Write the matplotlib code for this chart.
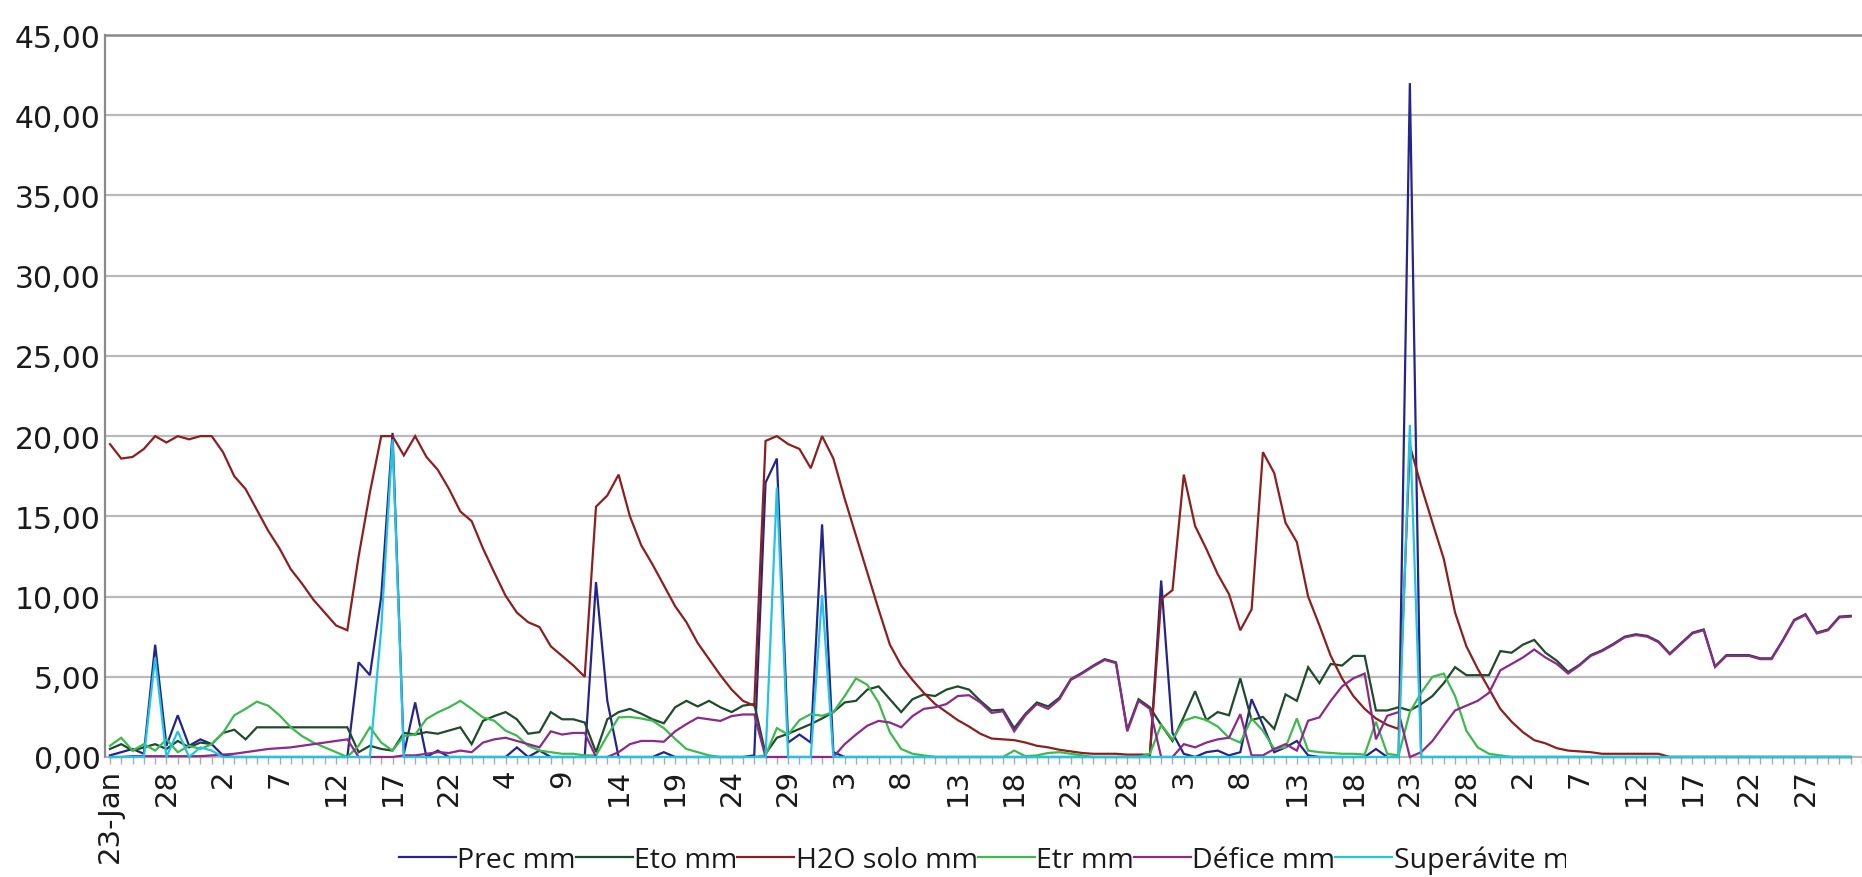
import matplotlib
matplotlib.use("Agg")
import matplotlib.pyplot as plt
from matplotlib import font_manager as fm
from matplotlib.lines import Line2D
from matplotlib.transforms import Bbox, TransformedBbox

# ---------------- data ----------------
tick_labels = ["23-Jan", "28", "2", "7", "12", "17", "22", "4", "9", "14", "19",
               "24", "29", "3", "8", "13", "18", "23", "28", "3", "8", "13",
               "18", "23", "28", "2", "7", "12", "17", "22", "27"]
ytick_values = [0, 5, 10, 15, 20, 25, 30, 35, 40, 45]
ytick_labels = ["0,00", "5,00", "10,00", "15,00", "20,00", "25,00",
                "30,00", "35,00", "40,00", "45,00"]
series_names = ["Prec mm", "Eto mm", "H2O solo mm", "Etr mm", "Défice mm", "Superávite mm"]

prec = [0.1, 0.3, 0.5, 0.2, 7.0, 0.7, 2.6, 0.7, 1.1, 0.8,
        0.1, 0, 0, 0, 0, 0, 0, 0, 0, 0,
        0, 0, 5.9, 5.1, 10.0, 20.2, 0.2, 3.4, 0, 0.4,
        0, 0, 0, 0, 0, 0, 0.6, 0, 0.4, 0,
        0, 0, 0, 10.9, 3.5, 0, 0, 0, 0, 0.3,
        0, 0, 0, 0, 0, 0, 0, 0.1, 17.1, 18.6,
        0.9, 1.4, 0.9, 14.5, 0.3, 0, 0, 0, 0, 0,
        0, 0, 0, 0, 0, 0, 0, 0, 0, 0,
        0, 0, 0, 0, 0, 0, 0, 0, 0, 0,
        0, 0, 0, 11.0, 1.5, 0.2, 0, 0.3, 0.4, 0.1,
        0.3, 3.6, 2.0, 0.3, 0.6, 1.0, 0.1, 0, 0, 0,
        0, 0, 0.5, 0, 0, 42.0, 0, 0, 0, 0,
        0, 0, 0, 0, 0, 0, 0, 0, 0, 0,
        0, 0, 0, 0, 0, 0, 0, 0, 0, 0,
        0, 0, 0, 0, 0, 0, 0, 0, 0, 0,
        0, 0, 0, 0, 0]

eto = [0.5, 0.8, 0.4, 0.6, 0.8, 0.5, 1.0, 0.6, 0.9, 0.8,
       1.5, 1.7, 1.1, 1.85, 1.85, 1.85, 1.85, 1.85, 1.85, 1.85,
       1.85, 1.85, 0.3, 0.7, 0.5, 0.4, 1.5, 1.4, 1.55, 1.45,
       1.65, 1.85, 0.8, 2.25, 2.55, 2.8, 2.35, 1.45, 1.55, 2.8,
       2.35, 2.35, 2.15, 0.3, 2.35, 2.8, 3.0, 2.7, 2.35, 2.1,
       3.1, 3.5, 3.15, 3.5, 3.1, 2.8, 3.2, 3.3, 0.2, 1.2,
       1.45, 1.75, 2.05, 2.4, 2.8, 3.4, 3.5, 4.2, 4.4, 3.6,
       2.8, 3.6, 3.9, 3.8, 4.2, 4.4, 4.2, 3.5, 2.9, 2.95,
       1.8, 2.7, 3.4, 3.15, 3.7, 4.85, 5.25, 5.7, 6.1, 5.9,
       1.7, 3.6, 3.1, 2.0, 1.0, 2.5, 4.1, 2.3, 2.8, 2.6,
       4.9, 2.3, 2.5, 1.75, 3.9, 3.5, 5.6, 4.6, 5.8, 5.7,
       6.3, 6.3, 2.9, 2.9, 3.1, 2.9, 3.3, 3.8, 4.6, 5.6,
       5.1, 5.1, 5.1, 6.6, 6.5, 7.0, 7.3, 6.5, 6.0, 5.3,
       5.75, 6.35, 6.65, 7.05, 7.5, 7.65, 7.55, 7.2, 6.45, 7.1,
       7.75, 7.95, 5.65, 6.35, 6.35, 6.35, 6.15, 6.15, 7.3, 8.55,
       8.9, 7.75, 7.95, 8.75, 8.8]

h2o = [19.5, 18.6, 18.7, 19.2, 20.0, 19.6, 20.0, 19.8, 20.0, 20.0,
       19.0, 17.5, 16.7, 15.4, 14.1, 13.0, 11.7, 10.8, 9.8, 9.0,
       8.2, 7.9, 12.5, 16.5, 20.0, 20.0, 18.8, 20.0, 18.7, 17.9,
       16.7, 15.3, 14.7, 13.0, 11.5, 10.05, 9.0, 8.4, 8.1, 6.9,
       6.3, 5.7, 5.0, 15.6, 16.3, 17.6, 15.0, 13.2, 12.0, 10.7,
       9.4, 8.4, 7.1, 6.1, 5.1, 4.2, 3.5, 3.2, 19.7, 20.0,
       19.5, 19.2, 18.0, 20.0, 18.6, 16.1, 13.8, 11.5, 9.2, 7.0,
       5.7, 4.8, 4.0, 3.3, 2.8, 2.3, 1.9, 1.45, 1.15, 1.1,
       1.05, 0.9, 0.7, 0.6, 0.45, 0.35, 0.25, 0.2, 0.2, 0.2,
       0.15, 0.15, 0.15, 9.85, 10.4, 17.6, 14.4, 12.96, 11.4, 10.15,
       7.9, 9.2, 19.0, 17.7, 14.6, 13.4, 10.0, 8.2, 6.3, 4.9,
       3.8, 3.0, 2.4, 2.0, 1.75, 19.4, 16.9, 14.6, 12.35, 9.0,
       6.9, 5.5, 4.25, 3.0, 2.2, 1.55, 1.05, 0.85, 0.55, 0.4,
       0.35, 0.3, 0.2, 0.2, 0.2, 0.2, 0.2, 0.2, 0, 0,
       0, 0, 0, 0, 0, 0, 0, 0, 0, 0,
       0, 0, 0, 0, 0]

etr = [0.7, 1.2, 0.4, 0.8, 0.4, 1.1, 0.3, 0.7, 0.5, 0.8,
       1.5, 2.6, 3.0, 3.45, 3.2, 2.6, 1.85, 1.3, 0.9, 0.6,
       0.3, 0.0, 0.7, 1.85, 0.9, 0.4, 1.3, 1.4, 2.37, 2.78,
       3.1, 3.5, 3.0, 2.47, 2.26, 1.64, 1.33, 0.7, 0.4, 0.3,
       0.2, 0.2, 0.1, 0.1, 1.33, 2.47, 2.5, 2.4, 2.26, 1.8,
       1.13, 0.5, 0.3, 0.1, 0, 0, 0, 0, 0.1, 1.8,
       1.4, 2.3, 2.67, 2.57, 2.8, 3.8, 4.9, 4.5, 3.4, 1.54,
       0.5, 0.2, 0.1, 0, 0, 0, 0, 0, 0, 0,
       0.4, 0.05, 0.1, 0.25, 0.3, 0.2, 0.1, 0, 0, 0,
       0, 0, 0.2, 2.0, 1.1, 2.26, 2.5, 2.3, 1.9, 1.2,
       0.9, 2.4, 1.64, 0.5, 0.6, 2.4, 0.4, 0.3, 0.25, 0.2,
       0.2, 0.15, 2.2, 0.2, 0.1, 2.8, 4.0, 5.0, 5.2, 3.8,
       1.64, 0.6, 0.2, 0.1, 0, 0, 0, 0, 0, 0,
       0, 0, 0, 0, 0, 0, 0, 0, 0, 0,
       0, 0, 0, 0, 0, 0, 0, 0, 0, 0,
       0, 0, 0, 0, 0]

defice = [0, 0, 0.05, 0.05, 0.05, 0.05, 0.05, 0.05, 0.05, 0.1,
          0.15, 0.2, 0.3, 0.4, 0.5, 0.55, 0.6, 0.7, 0.8, 0.9,
          1.0, 1.1, 0, 0, 0, 0, 0.1, 0.1, 0.2, 0.3,
          0.25, 0.4, 0.3, 0.9, 1.1, 1.2, 1.0, 0.8, 0.6, 1.6,
          1.4, 1.5, 1.5, 0, 0, 0.3, 0.8, 1.0, 1.0, 0.95,
          1.6, 2.05, 2.45, 2.35, 2.25, 2.55, 2.65, 2.65, 0, 0,
          0, 0, 0, 0, 0, 0.8, 1.4, 1.95, 2.25, 2.15,
          1.85, 2.55, 3.0, 3.1, 3.3, 3.8, 3.85, 3.4, 2.75, 2.85,
          1.6, 2.6, 3.3, 3.0, 3.6, 4.8, 5.2, 5.65, 6.05, 5.85,
          1.6, 3.5, 3.0, 0, 0, 0.8, 0.6, 0.9, 1.1, 1.2,
          2.67, 0.1, 0.1, 0.5, 0.8, 0.4, 2.26, 2.47, 3.5, 4.4,
          4.9, 5.2, 1.1, 2.57, 2.8, 0, 0.3, 1.0, 1.96, 2.9,
          3.2, 3.5, 4.0, 5.4, 5.8, 6.2, 6.7, 6.2, 5.8, 5.2,
          5.7, 6.3, 6.6, 7.0, 7.45, 7.6, 7.5, 7.15, 6.4, 7.05,
          7.7, 7.9, 5.6, 6.3, 6.3, 6.3, 6.1, 6.1, 7.25, 8.5,
          8.85, 7.7, 7.9, 8.7, 8.75]

superavite = [0, 0, 0, 0, 6.2, 0, 1.6, 0, 0.6, 0.4,
              0, 0, 0, 0, 0, 0, 0, 0, 0, 0,
              0, 0, 0, 0, 8.0, 19.8, 0, 0, 0, 0,
              0, 0, 0, 0, 0, 0, 0, 0, 0, 0,
              0, 0, 0, 0, 0, 0, 0, 0, 0, 0,
              0, 0, 0, 0, 0, 0, 0, 0, 0, 16.8,
              0, 0, 0, 10.1, 0, 0, 0, 0, 0, 0,
              0, 0, 0, 0, 0, 0, 0, 0, 0, 0,
              0, 0, 0, 0, 0, 0, 0, 0, 0, 0,
              0, 0, 0, 0, 0, 0, 0, 0, 0, 0,
              0, 0, 0, 0, 0, 0, 0, 0, 0, 0,
              0, 0, 0, 0, 0, 20.7, 0, 0, 0, 0,
              0, 0, 0, 0, 0, 0, 0, 0, 0, 0,
              0, 0, 0, 0, 0, 0, 0, 0, 0, 0,
              0, 0, 0, 0, 0, 0, 0, 0, 0, 0,
              0, 0, 0, 0, 0]

series = [prec, eto, h2o, etr, defice, superavite]
colors = ["#24248a", "#1f4a2c", "#8c1f1f", "#3dba4e", "#8a2a8a", "#22c4e4"]

# ---------------- figure ----------------
W, H = 1862, 878
fig = plt.figure(figsize=(W / 100, H / 100), dpi=100)
ax_left, ax_top, ax_bottom = 105, 36, 758
ax = fig.add_axes([ax_left / W, 1 - ax_bottom / H, 1 - ax_left / W, (ax_bottom - ax_top) / H])

for vals, col, name in zip(series, colors, series_names):
    ax.plot(range(len(vals)), vals, color=col, lw=1.6, label=name,
            solid_joinstyle="miter", clip_on=False, zorder=3)

step, x0 = 11.42, 110
ax.set_xlim((ax_left - x0) / step, (W - x0) / step)
ax.set_ylim(0, 45)

ax.set_yticks(ytick_values)
ax.set_yticklabels(ytick_labels)
ax.set_xticks(range(0, 5 * len(tick_labels), 5))
ax.set_xticklabels(tick_labels, rotation=90, va="top", ha="center")
ax.set_xticks(range(0, 156), minor=True)

ax.tick_params(axis="y", length=0, pad=3, labelsize=21.5, labelcolor="#1a1a1a")
ax.tick_params(axis="x", which="major", length=5, width=1, color="#aaaaaa",
               pad=3, labelsize=21, labelcolor="#1a1a1a")
ax.tick_params(axis="x", which="minor", length=5, width=1, color="#aaaaaa")

ax.yaxis.grid(True, color="#b9b9b9", lw=1.6, zorder=0)
ax.set_axisbelow(True)
ax.spines["right"].set_visible(False)
ax.spines["left"].set_color("#8a8a8a")
ax.spines["left"].set_linewidth(1.6)
ax.spines["top"].set_color("#8a8a8a")
ax.spines["top"].set_linewidth(1.8)
ax.spines["bottom"].set_color("#b9b9b9")

# ---------------- legend ----------------
names = {f.name for f in fm.fontManager.ttflist}
if "Liberation Sans Narrow" in names:
    leg_family, leg_size = "Liberation Sans Narrow", 23
else:
    leg_family, leg_size = "Open Sans", 20.5

handles = [Line2D([], [], color=c, lw=1.6) for c in colors]
leg = fig.legend(handles, series_names, loc="center left",
                 bbox_to_anchor=(399 / W, 1 - 861 / H), ncol=6, frameon=False,
                 handlelength=2.0, handletextpad=0.05, columnspacing=0.0,
                 borderpad=0, borderaxespad=0,
                 prop={"family": leg_family, "size": leg_size})
for t in leg.get_texts():
    t.set_color("#1a1a1a")
clip = TransformedBbox(Bbox([[0, 0], [1566 / W, 1]]), fig.transFigure)
last = leg.get_texts()[-1]
last.set_clip_box(clip)
last.set_clip_on(True)

fig.savefig("out.png", dpi=100)
